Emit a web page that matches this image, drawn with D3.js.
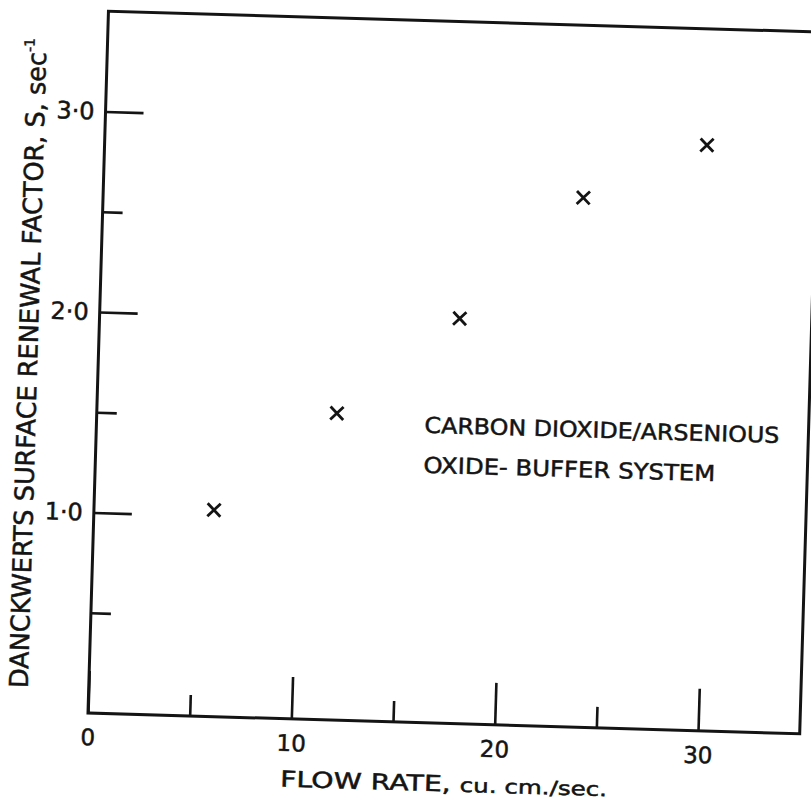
<!DOCTYPE html>
<html lang="en">

<head>
  <meta charset="UTF-8">
  <title>Danckwerts surface renewal factor vs flow rate</title>
  <script src="https://d3js.org/d3.v7.min.js"></script>
  <style>
    body {
      margin: 0;
      background-color: #fff;
    }

    svg {
      display: block;
      font-family: "DejaVu Sans", sans-serif;
    }

    svg text {
      fill: #141414;
      stroke: #141414;
      stroke-width: 0.5px;
    }

    .tick line {
      stroke: #141414;
      stroke-width: 2.6px;
    }
  </style>
</head>

<body>
  <script>
    // values
    const flowRate = [5.9, 11.8, 17.7, 23.6, 29.6];
    const renewalFactor = [1.03, 1.53, 2.02, 2.64, 2.92];

    const xMajorTicks = [0, 10, 20, 30];
    const xMinorTicks = [5, 15, 25];
    const yMajorTicks = [1, 2, 3];
    const yMinorTicks = [0.5, 1.5, 2.5];
    const yTickLabels = ["1·0", "2·0", "3·0"];

    const xTitle = "FLOW  RATE, ";
    const xTitleUnits = "cu. cm./sec.";
    const yTitle = "DANCKWERTS SURFACE RENEWAL FACTOR, S, sec";
    const noteLines = ["CARBON DIOXIDE/ARSENIOUS", "OXIDE- BUFFER SYSTEM"];

    const width = 811;
    const height = 804;
    const w = 712;   // plot frame
    const h = 702;
    const tilt = 1.67; // the scan is slightly turned

    const svg = d3.select("body").append("svg")
      .attr("width", width)
      .attr("height", height);

    svg.append("rect")
      .attr("width", width)
      .attr("height", height)
      .attr("fill", "#fff");

    const g = svg.append("g")
      .attr("transform", `translate(88,713) rotate(${tilt}) translate(0,${-h})`);

    const x = d3.scaleLinear().domain([0, 35]).range([0, w]);
    const y = d3.scaleLinear().domain([0, 3.5]).range([h, 0]);

    // frame
    g.append("rect")
      .attr("width", w)
      .attr("height", h)
      .attr("fill", "none")
      .attr("stroke", "#141414")
      .attr("stroke-width", 3);

    // x axis, ticks pointing inward
    g.append("g")
      .attr("transform", `translate(0,${h})`)
      .call(d3.axisBottom(x).tickValues(xMajorTicks).tickSize(-42).tickPadding(16).tickFormat(d3.format("d")))
      .call(a => a.select(".domain").remove())
      .call(a => a.selectAll("text").attr("font-size", 23).attr("font-family", "DejaVu Sans"));

    g.append("g")
      .attr("transform", `translate(0,${h})`)
      .call(d3.axisBottom(x).tickValues(xMinorTicks).tickSize(-21).tickFormat(""))
      .call(a => a.select(".domain").remove());

    // y axis
    g.append("g")
      .call(d3.axisLeft(y).tickValues(yMajorTicks).tickSize(-38).tickPadding(11)
        .tickFormat((d, i) => yTickLabels[i]))
      .call(a => a.select(".domain").remove())
      .call(a => a.selectAll("text").attr("font-size", 24).attr("font-family", "DejaVu Sans"));

    g.append("g")
      .call(d3.axisLeft(y).tickValues(yMinorTicks).tickSize(-20).tickFormat(""))
      .call(a => a.select(".domain").remove());

    // points drawn as crosses
    const pts = flowRate.map((f, i) => ({ f, s: renewalFactor[i] }));
    const r = 6.5;
    g.selectAll(".pt")
      .data(pts)
      .join("path")
      .attr("class", "pt")
      .attr("d", d => {
        const cx = x(d.f), cy = y(d.s);
        return `M${cx - r},${cy - r}L${cx + r},${cy + r}M${cx - r},${cy + r}L${cx + r},${cy - r}`;
      })
      .attr("stroke", "#141414")
      .attr("stroke-width", 2.8)
      .attr("fill", "none");

    // axis titles
    const xt = g.append("text")
      .attr("x", 194)
      .attr("y", h + 68)
      .attr("font-size", 22)
      .attr("textLength", 327)
      .attr("lengthAdjust", "spacingAndGlyphs");
    xt.append("tspan").text(xTitle);
    xt.append("tspan").attr("font-size", 19).text(xTitleUnits);

    const yt = g.append("text")
      .attr("transform", `translate(-61,354) rotate(-90)`)
      .attr("text-anchor", "middle")
      .attr("font-size", 26)
      .attr("textLength", 650)
      .attr("lengthAdjust", "spacingAndGlyphs");
    yt.append("tspan").text(yTitle);
    yt.append("tspan").attr("font-size", 14).attr("dy", -12).text("-1");

    // annotation
    g.selectAll(".note")
      .data(noteLines)
      .join("text")
      .attr("class", "note")
      .attr("x", 328)
      .attr("y", (d, i) => 412 + i * 40)
      .attr("font-size", 22)
      .attr("textLength", (d, i) => i === 0 ? 355 : 292)
      .attr("lengthAdjust", "spacingAndGlyphs")
      .text(d => d);
  </script>
</body>
</html>
